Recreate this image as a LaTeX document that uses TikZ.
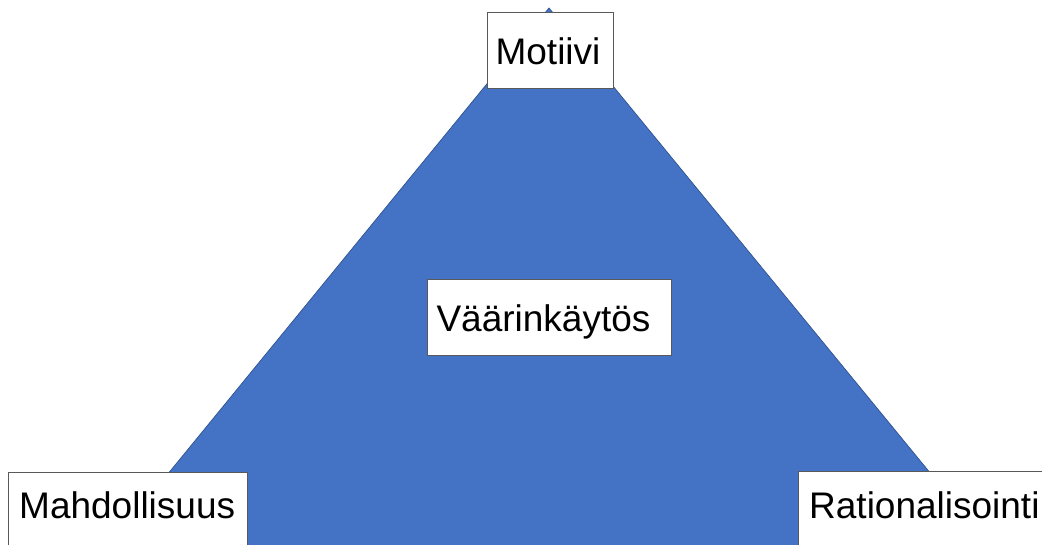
\documentclass[tikz,border=0pt]{standalone}
\usepackage{fontspec}
\setmainfont{Liberation Sans}
\definecolor{triblue}{HTML}{4472C4}
\definecolor{triedge}{HTML}{2F528F}
\definecolor{boxedge}{HTML}{595959}
\begin{document}
\begin{tikzpicture}[x=1pt,y=-1pt,
  lbl/.style={font=\fontsize{37}{42}\selectfont, text=black, inner sep=0pt},
  wbox/.style={draw=boxedge, line width=0.8pt, fill=white}]
\useasboundingbox (0,0) rectangle (1042,545);
\begin{scope}
\clip (0,0) rectangle (1042,545);
% triangle
\coordinate (apex) at (549,8);
\coordinate (bl) at (95,563);
\coordinate (br) at (1004,563);
\draw[fill=triblue, draw=triedge, line width=0.7pt] (apex) -- (bl) -- (br) -- cycle;
% boxes
\node[wbox, minimum width=126pt, minimum height=76pt, inner sep=0pt] (motbox) at (550,50) {};
\node[lbl, anchor=base] (mot) at (548,65) {Motiivi};
\node[wbox, minimum width=244pt, minimum height=76pt, inner sep=0pt] (vbox) at (549,317) {};
\node[lbl, anchor=base] (vaa) at (543.5,332) {Väärinkäytös};
\draw[wbox] (8,472) rectangle (247,560);
\node[lbl, anchor=base west] (mah) at (19,518) {Mahdollisuus};
\draw[wbox] (798,471) rectangle (1060,560);
\node[lbl, anchor=base west] (rat) at (809,518) {Rationalisointi};
\end{scope}
\end{tikzpicture}
\end{document}
